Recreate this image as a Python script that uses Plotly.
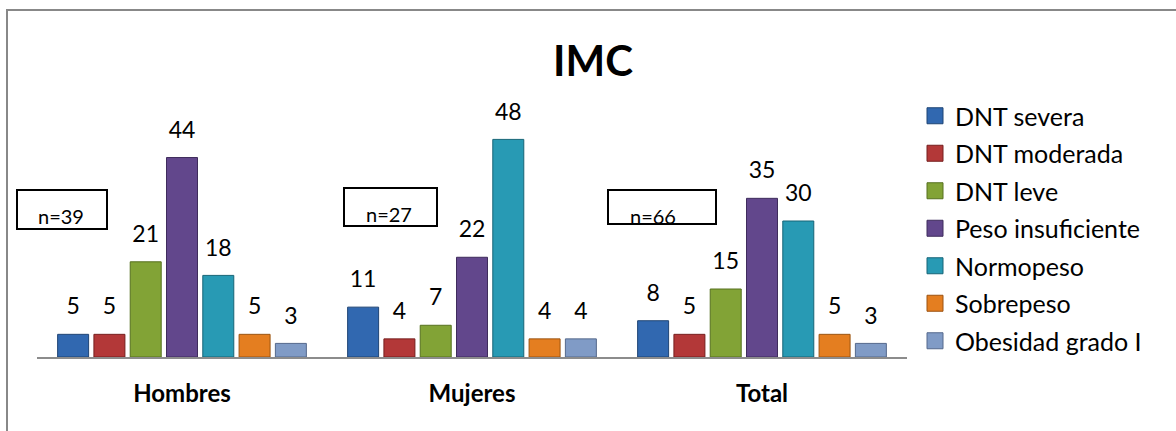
import plotly.graph_objects as go

W, H = 1176, 431

categories = ["Hombres", "Mujeres", "Total"]
series_names = ["DNT severa", "DNT moderada", "DNT leve", "Peso insuficiente",
                "Normopeso", "Sobrepeso", "Obesidad grado I"]
dnt_severa = [5, 11, 8]
dnt_moderada = [5, 4, 5]
dnt_leve = [21, 7, 15]
peso_insuficiente = [44, 22, 35]
normopeso = [18, 48, 30]
sobrepeso = [5, 4, 5]
obesidad_grado_1 = [3, 4, 3]
n_labels = ["n=39", "n=27", "n=66"]

series_values = [dnt_severa, dnt_moderada, dnt_leve, peso_insuficiente,
                 normopeso, sobrepeso, obesidad_grado_1]
colors = ["#3168B0", "#B33838", "#82A336", "#62478C", "#289AB4", "#E47E20", "#809BC6"]
edges = ["#1F4474", "#761F1E", "#56701F", "#3F2C5C", "#176577", "#9C5310", "#55698C"]

FONT = "Lato"

fig = go.Figure()
for i, (name, vals) in enumerate(zip(series_names, series_values)):
    fig.add_trace(go.Bar(
        x=categories, y=vals, name=name, showlegend=False,
        marker=dict(color=colors[i], line=dict(color=edges[i], width=1)),
        offsetgroup=str(i), legendgroup=str(i), hoverinfo="skip"))
for i, (name, vals) in enumerate(zip(series_names, series_values)):
    fig.add_trace(go.Scatter(
        x=categories, y=vals, mode="markers+text", text=[str(v) for v in vals],
        textposition="top center", textfont=dict(family=FONT, size=23, color="#000000"),
        marker=dict(size=21, color="rgba(0,0,0,0)"), showlegend=False,
        offsetgroup=str(i), legendgroup=str(i), hoverinfo="skip", cliponaxis=False))
for i, name in enumerate(series_names):
    fig.add_trace(go.Scatter(
        x=[None], y=[None], mode="markers", name=name,
        marker=dict(symbol="square", size=16, color=colors[i],
                    line=dict(color=edges[i], width=1)),
        offsetgroup=str(i), legendgroup=str(i), showlegend=True))

# n= boxes (pixel boxes converted to paper coords)
boxes = [(17, 190, 107, 229), (344, 188, 437, 226), (608, 190, 716, 224)]
text_pos = [(61, 216), (389, 214), (653, 216)]
shapes = []
annotations = []
for (x0, y0, x1, y1), (tx, ty), lab in zip(boxes, text_pos, n_labels):
    shapes.append(dict(type="rect", xref="paper", yref="paper",
                       x0=x0 / W, x1=x1 / W, y0=1 - y1 / H, y1=1 - y0 / H,
                       line=dict(color="#000000", width=2), fillcolor="rgba(0,0,0,0)"))
    annotations.append(dict(xref="paper", yref="paper", x=tx / W, y=1 - ty / H,
                            text=lab, showarrow=False, xanchor="center", yanchor="middle",
                            font=dict(family=FONT, size=20, color="#000000")))
# outer chart border
shapes.append(dict(type="rect", xref="paper", yref="paper",
                   x0=7 / W, x1=1.02, y0=-0.05, y1=1 - 10 / H,
                   line=dict(color="#888888", width=2), layer="below"))

fig.update_layout(
    width=W, height=H,
    margin=dict(l=0, r=0, t=0, b=0, autoexpand=False),
    paper_bgcolor="white", plot_bgcolor="white",
    barmode="group", bargap=0.124, bargroupgap=0.146,
    scattermode="group", scattergap=0.124,
    title=dict(text="IMC", x=593 / W, xanchor="center", y=1 - 61 / H, yanchor="middle",
               font=dict(family=FONT, size=42, color="#000000", weight="bold")),
    font=dict(family=FONT, color="#000000"),
    xaxis=dict(domain=[37 / W, 907 / W], showline=True, linecolor="#8C8C8C", linewidth=2,
               showgrid=False, ticks="", ticklabelstandoff=14,
               tickfont=dict(family=FONT, size=24, color="#000000", weight="bold"),
               fixedrange=True),
    yaxis=dict(domain=[1 - 357 / H, 1 - 85 / H], range=[0, 60], visible=False,
               showgrid=False, zeroline=False, fixedrange=True),
    legend=dict(x=915 / W, xanchor="left", y=1 - 93 / H, yanchor="top",
                font=dict(family=FONT, size=25, color="#000000"),
                tracegroupgap=2, bgcolor="rgba(0,0,0,0)"),
    shapes=shapes, annotations=annotations,
)

fig.write_html("out.html")
